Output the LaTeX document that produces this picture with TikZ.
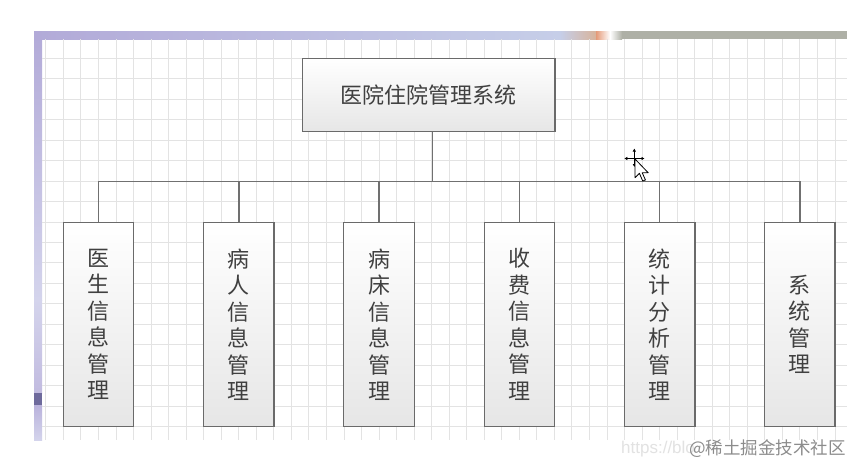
\documentclass[tikz,border=0pt]{standalone}
\usepackage{fontspec}
\setmainfont{Liberation Sans}
\newfontfamily\cjk{Noto Sans CJK SC}
\usetikzlibrary{arrows.meta}
\definecolor{boxline}{HTML}{6A6A6A}
\definecolor{boxbot}{HTML}{E6E6E6}
\definecolor{txt}{HTML}{404040}
\definecolor{gridc}{HTML}{E3E3E3}
\definecolor{conn}{HTML}{707070}
\definecolor{lavA}{HTML}{B2AAD8}
\definecolor{lavB}{HTML}{D4D4EC}
\definecolor{lavC}{HTML}{C6CEE8}
\definecolor{lavD}{HTML}{6E6A9C}
\definecolor{tanA}{HTML}{D8B49C}
\definecolor{orgA}{HTML}{E49A78}
\definecolor{grayA}{HTML}{AEB0A6}
\definecolor{wmark}{HTML}{8C8C8C}
\definecolor{wfaint}{HTML}{E2E2E2}
\begin{document}
\begin{tikzpicture}[x=1pt,y=-1pt,
  box/.style={draw=boxline, line width=1.2pt, top color=white, bottom color=boxbot,
    inner sep=0pt, text=txt, align=center},
  topbox/.style={box, minimum width=252.7pt, minimum height=73.4pt,
    font=\cjk\fontsize{22}{26}\selectfont},
  childbox/.style={box, minimum width=70.4pt, minimum height=204.4pt,
    font=\cjk\fontsize{22}{26.5}\selectfont},
  link/.style={draw=conn, line width=1.3pt},
  gridline/.style={draw=gridc, line width=0.7pt}]
\useasboundingbox (0,0) rectangle (853,466);
\fill[white] (0,0) rectangle (853,466);
% canvas frame
\fill[white] (42,39) rectangle (847,440);
\shade[top color=lavA, bottom color=lavB] (34,31) rectangle (42,300);
\shade[top color=lavB, bottom color=lavA!80!white] (34,300) rectangle (42,393);
\fill[lavD] (34,393) rectangle (42,405);
\shade[top color=lavA!90!white, bottom color=lavB] (34,405) rectangle (42,440);
\shade[left color=lavA, right color=lavC] (34,31) rectangle (560,39);
\shade[left color=lavC, right color=tanA] (560,31) rectangle (596,39);
\shade[left color=orgA, right color=white] (596,31) rectangle (610,39);
\shade[left color=white, right color=grayA] (610,31) rectangle (622,39);
\fill[grayA] (622,31) rectangle (847,39);
% grid
\foreach \k in {-1,...,44} \draw[gridline] ({63.3+17.535*\k},39) -- ({63.3+17.535*\k},440);
\foreach \k in {-6,...,12} \draw[gridline] (42,{181+20.45*\k}) -- (847,{181+20.45*\k});
% nodes
\node[topbox] (root) at (428.65,95) {医院住院管理系统};
\node[childbox] (c1) at (98.5,324.5) {医\\生\\信\\息\\管\\理};
\node[childbox] (c2) at (238.85,324.5) {病\\人\\信\\息\\管\\理};
\node[childbox] (c3) at (379,324.5) {病\\床\\信\\息\\管\\理};
\node[childbox] (c4) at (519.65,324.5) {收\\费\\信\\息\\管\\理};
\node[childbox] (c5) at (659.7,324.5) {统\\计\\分\\析\\管\\理};
\node[childbox] (c6) at (799.85,324.5) {系\\统\\管\\理};
% connectors
\draw[link] ([xshift=3.65pt]root.south) -- ++(0,49) coordinate (j);
\foreach \c in {c1,c2,c3,c4,c5,c6} \draw[link] (\c.north) |- (j);
% cursor
\draw[line width=0.8pt, -{Latex[length=3pt,width=3.5pt]}] (634.3,158.5) -- (634.3,148.5);
\draw[line width=0.8pt, -{Latex[length=3pt,width=3.5pt]}] (634.3,158.5) -- (624.3,158.5);
\draw[line width=0.8pt, -{Latex[length=3pt,width=3.5pt]}] (634.3,158.5) -- (644.5,158.5);
\draw[line width=0.8pt, -{Latex[length=3pt,width=3.5pt]}] (634.3,158.5) -- (634.3,167);
\draw[fill=white, line width=0.8pt, line join=round, shift={(635,159)}, scale=1.1]
  (0,0) -- (0,17) -- (4,13) -- (7,20) -- (9.5,19) -- (6.5,12.5) -- (12,12.5) -- cycle;
% watermark
\node[anchor=west, inner sep=0pt, text=wfaint, font=\fontsize{17}{17}\selectfont] (url) at (621,449) {https://blo};
\node[anchor=east, inner sep=0pt, text=wmark, font=\cjk\fontsize{17.5}{17.5}\selectfont] (wm) at (846,449) {@稀土掘金技术社区};
\end{tikzpicture}
\end{document}
